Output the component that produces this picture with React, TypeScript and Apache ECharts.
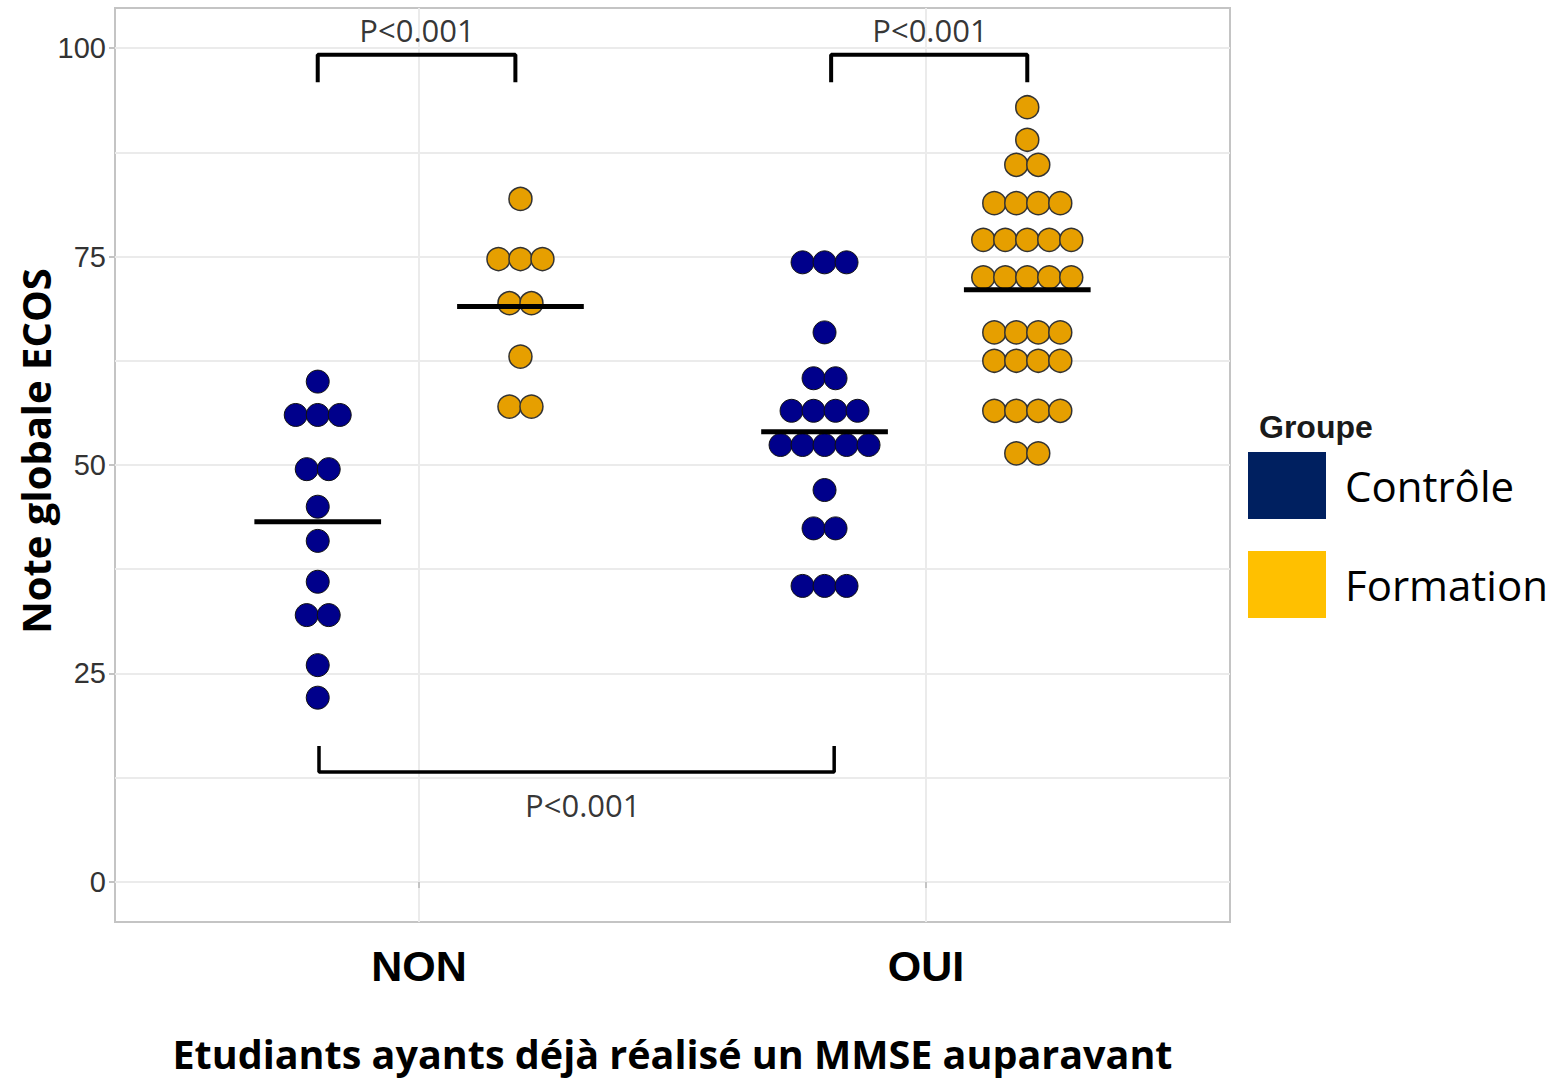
import React, { useEffect, useRef } from "react";
import * as echarts from "echarts";

// ---- data ----
const categories = ["NON", "OUI"];
const groups = ["Contrôle", "Formation"];
const yTickLabels = [0, 25, 50, 75, 100];
const gridValues = [0, 12.5, 25, 37.5, 50, 62.5, 75, 87.5, 100];

// dot rows: [score, number of dots in the row]
const nonControle: [number, number][] = [
  [60, 1], [56, 3], [49.5, 2], [45, 1], [40.9, 1], [36, 1], [32, 2], [26, 1], [22.1, 1],
];
const nonFormation: [number, number][] = [
  [81.9, 1], [74.7, 3], [69.4, 2], [63, 1], [57, 2],
];
const ouiControle: [number, number][] = [
  [74.3, 3], [65.9, 1], [60.4, 2], [56.5, 4], [52.4, 5], [47, 1], [42.4, 2], [35.5, 3],
];
const ouiFormation: [number, number][] = [
  [92.9, 1], [89, 1], [86, 2], [81.4, 4], [77, 5], [72.5, 5], [65.9, 4], [62.5, 4], [56.5, 4], [51.4, 2],
];
// medians per [category index, group index]
const medians: [number, number, number][] = [
  [0, 0, 43.2], [0, 1, 69.0], [1, 0, 54.0], [1, 1, 71.0],
];
const pLabel = "P<0.001";

const DOT_STEP = 0.0434; // horizontal dot spacing (axis units)
const DODGE = 0.2;

function posX(cat: number, grp: number) {
  return cat + 1 + (grp === 0 ? -DODGE : DODGE);
}

function buildDots(rows: [number, number][], cat: number, grp: number) {
  const out: number[][] = [];
  const cx = posX(cat, grp);
  rows.forEach(([v, n]) => {
    for (let i = 0; i < n; i++) {
      out.push([cx + (i - (n - 1) / 2) * DOT_STEP, v]);
    }
  });
  return out;
}

export default function App() {
  const ref = useRef<HTMLDivElement>(null);
  useEffect(() => {
    if (!ref.current) return;
    const chart = echarts.init(ref.current, null, { renderer: "svg" });

    const controleDots = [
      ...buildDots(nonControle, 0, 0),
      ...buildDots(ouiControle, 1, 0),
    ];
    const formationDots = [
      ...buildDots(nonFormation, 0, 1),
      ...buildDots(ouiFormation, 1, 1),
    ];

    const bracketNon = [
      [posX(0, 0), 95.9], [posX(0, 0), 99.2], [1.19, 99.2], [1.19, 95.9],
    ];
    const bracketOui = [
      [1.813, 95.9], [1.813, 99.2], [posX(1, 1), 99.2], [posX(1, 1), 95.9],
    ];
    const bracketBottom = [
      [0.8025, 16.3], [0.8025, 13.2], [1.819, 13.2], [1.819, 16.3],
    ];
    const pTexts = [
      [0.996, 102.2],
      [2.008, 102.2],
      [1.323, 9.2],
    ];

    const lineStyleBase = { color: "#000", width: 4 };

    chart.setOption({
      animation: false,
      backgroundColor: "#fff",
      grid: {
        left: 115, top: 8, width: 1115, height: 914,
        show: true, borderColor: "#c4c4c4", borderWidth: 2,
        containLabel: false,
      },
      legend: {
        orient: "vertical",
        left: 1248,
        top: 452,
        padding: 0,
        itemWidth: 78,
        itemHeight: 67,
        itemGap: 32,
        textStyle: { fontFamily: "Open Sans", fontSize: 42, color: "#000", padding: [0, 0, 0, 14] },
        data: [
          { name: groups[0], icon: "rect", itemStyle: { color: "#002060", borderWidth: 0 } },
          { name: groups[1], icon: "rect", itemStyle: { color: "#FFC000", borderWidth: 0 } },
        ],
        selectedMode: false,
      },
      graphic: [
        {
          type: "text",
          left: 1259,
          top: 411,
          style: {
            text: "Groupe",
            font: "bold 32px 'Liberation Sans', Arial, sans-serif",
            fill: "#1a1a1a",
          },
        },
        {
          type: "text",
          x: 35,
          y: 451,
          rotation: Math.PI / 2,
          style: {
            text: "Note globale ECOS",
            font: "bold 40px 'Open Sans', sans-serif",
            fill: "#000",
            align: "center",
            verticalAlign: "middle",
          },
        },
      ],
      xAxis: {
        type: "value",
        min: 0.4,
        max: 2.6,
        name: "Etudiants ayants déjà réalisé un MMSE auparavant",
        nameLocation: "middle",
        nameGap: 112,
        nameTextStyle: { fontFamily: "Open Sans", fontWeight: "bold", fontSize: 39.5, lineHeight: 40, color: "#000" },
        axisLine: { show: false },
        axisTick: { show: true, customValues: [1, 2], length: 6, lineStyle: { color: "#c4c4c4", width: 2 } },
        axisLabel: {
          customValues: [1, 2],
          formatter: (v: number) => categories[Math.round(v) - 1] ?? "",
          fontFamily: "'Liberation Sans', Arial, sans-serif",
          fontWeight: "bold",
          fontSize: 43,
          color: "#000",
          margin: 22,
        },
        splitLine: { show: false },
      },
      yAxis: {
        type: "value",
        min: -4.8,
        max: 104.8,
        axisLine: { show: false },
        axisTick: { show: true, customValues: yTickLabels, length: 6, lineStyle: { color: "#c4c4c4", width: 2 } },
        axisLabel: {
          customValues: yTickLabels,
          fontFamily: "'Liberation Sans', Arial, sans-serif",
          fontSize: 29,
          color: "#333",
          margin: 9,
        },
        splitLine: { show: false },
      },
      series: [
        {
          type: "line",
          name: "grid",
          data: [],
          silent: true,
          z: 0,
          markLine: {
            silent: true,
            z: 0,
            symbol: "none",
            label: { show: false },
            lineStyle: { color: "#ebebeb", width: 2, type: "solid" },
            data: [
              ...gridValues.map((v) => ({ yAxis: v })),
              { xAxis: 1 },
              { xAxis: 2 },
            ],
          },
        },
        {
          type: "scatter",
          name: groups[0],
          data: controleDots,
          symbol: "circle",
          symbolSize: 23,
          itemStyle: { color: "#00008B", borderColor: "#111", borderWidth: 1, opacity: 1 },
          z: 3,
        },
        {
          type: "scatter",
          name: groups[1],
          data: formationDots,
          symbol: "circle",
          symbolSize: 23,
          itemStyle: { color: "#E69F00", borderColor: "#333", borderWidth: 1.5, opacity: 1 },
          z: 3,
        },
        {
          type: "custom",
          name: "median",
          data: medians.map(([c, g, m]) => [posX(c, g), m]),
          renderItem: (params: any, api: any) => {
            const x = api.value(0);
            const y = api.value(1);
            const p1 = api.coord([x - 0.125, y]);
            const p2 = api.coord([x + 0.125, y]);
            return {
              type: "line",
              shape: { x1: p1[0], y1: p1[1], x2: p2[0], y2: p2[1] },
              style: { stroke: "#000", lineWidth: 5 },
            };
          },
          z: 5,
        },
        {
          type: "line", name: "b1", data: bracketNon, symbol: "none",
          lineStyle: lineStyleBase, z: 4, silent: true,
        },
        {
          type: "line", name: "b2", data: bracketOui, symbol: "none",
          lineStyle: lineStyleBase, z: 4, silent: true,
        },
        {
          type: "line", name: "b3", data: bracketBottom, symbol: "none",
          lineStyle: { color: "#000", width: 3.5 }, z: 4, silent: true,
        },
        {
          type: "scatter",
          name: "p",
          data: pTexts,
          symbolSize: 0,
          silent: true,
          label: {
            show: true,
            position: "inside",
            formatter: () => pLabel,
            fontFamily: "Open Sans",
            fontSize: 31,
            color: "#000",
          },
          z: 6,
        },
      ],
    });
    return () => chart.dispose();
  }, []);
  return (
    <div
      ref={ref}
      style={{ position: "fixed", left: 0, top: 0, width: 1552, height: 1080 }}
    />
  );
}
